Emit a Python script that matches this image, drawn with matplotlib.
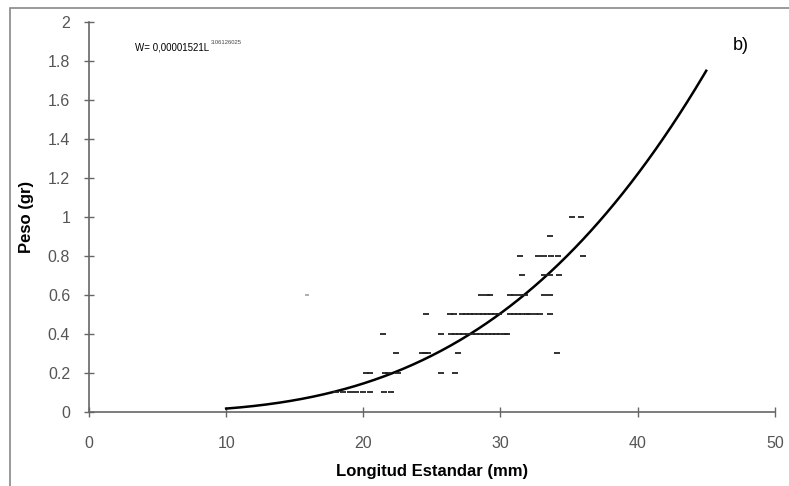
import matplotlib
matplotlib.use('Agg')
import matplotlib.pyplot as plt
import numpy as np
from matplotlib.patches import Rectangle

plt.rcParams['font.family'] = ['Liberation Sans', 'DejaVu Sans']

# datos: longitud estandar (mm) y peso (gr)
long_01 = [18, 18.5, 19, 19.5, 20, 20.5, 21.5, 22]
long_02 = [20.2, 20.5, 21.6, 21.8, 22.5, 25.7, 26.7]
long_03 = [22.4, 24.3, 24.5, 24.7, 26.9, 34.1]
long_04 = [21.4, 25.7, 26.4, 26.7, 27.0, 27.3, 27.6, 27.9, 28.2,
           28.5, 28.8, 29.1, 29.4, 29.7, 30.0, 30.3, 30.5]
long_05 = [24.6, 26.3, 26.6, 27.2, 27.5, 27.8, 28.1, 28.4, 28.7, 29.0,
           29.3, 29.6, 29.9, 30.7, 31.0, 31.3, 31.6, 31.9, 32.1, 32.5,
           32.9, 33.6]
long_06 = [28.6, 29.0, 29.2, 30.7, 31.0, 31.4, 31.8, 33.2, 33.6]
long_07 = [31.6, 33.2, 33.6, 34.3]
long_08 = [31.4, 32.7, 33.2, 33.7, 34.2, 36.0]
long_09 = [33.6]
long_10 = [35.2, 35.9]
niveles_peso = [0.1, 0.2, 0.3, 0.4, 0.5, 0.6, 0.7, 0.8, 0.9, 1.0]
atipico_x, atipico_y = [15.9], [0.6]

# modelo ajustado W = a * L^b
coef_a = 0.00001521
coef_b = 3.06126
rango_L = (10, 45)

grupos = [long_01, long_02, long_03, long_04, long_05,
          long_06, long_07, long_08, long_09, long_10]
xs = np.concatenate([np.array(g, float) for g in grupos])
ys = np.concatenate([np.full(len(g), p) for g, p in zip(grupos, niveles_peso)])

fig = plt.figure(figsize=(7.89, 4.86), dpi=100)
ax = fig.add_axes([0.1128, 0.1523, 0.8692, 0.8024])

L = np.linspace(rango_L[0], rango_L[1], 300)
ax.plot(L, coef_a * L ** coef_b, color='black', lw=1.8)

ax.plot(xs, ys, linestyle='none', marker='_', ms=4, mew=1.3, color='#222222')
ax.plot(atipico_x, atipico_y, linestyle='none', marker='_', ms=3, mew=1.1, color='#999999')

ax.set_xlim(0, 50)
ax.set_ylim(0, 2)
ax.set_xticks(np.arange(0, 51, 10))
ax.set_yticks(np.arange(0, 2.01, 0.2))
ax.set_yticklabels(['0', '0.2', '0.4', '0.6', '0.8', '1', '1.2', '1.4', '1.6', '1.8', '2'])
for s in ['top', 'right']:
    ax.spines[s].set_visible(False)
for s in ['left', 'bottom']:
    ax.spines[s].set_color('#666666')
    ax.spines[s].set_linewidth(1.2)
ax.tick_params(direction='inout', length=7, width=1, color='#666666',
               labelsize=11.5, labelcolor='#555555')
ax.tick_params(axis='y', pad=10)
ax.tick_params(axis='x', pad=14)

ax.set_xlabel('Longitud Estandar (mm)', fontsize=12, fontweight='bold', labelpad=9)
ax.set_ylabel('Peso (gr)', fontsize=12, fontweight='bold', labelpad=10)

fig.text(135 / 789, 1 - 47 / 486, 'W= 0,00001521L', fontsize=7, va='center', ha='left')
fig.text(211 / 789, 1 - 43 / 486, '3.06126025', fontsize=4.2, va='center', ha='left', color='#444444')
fig.text(733 / 789, 1 - 45 / 486, 'b)', fontsize=13, va='center', ha='left')

# marco exterior
fig.patches.append(Rectangle((10 / 789, -0.05), 1.1, 1 - 8 / 486 + 0.05,
                             transform=fig.transFigure, fill=False,
                             edgecolor='#888888', lw=1.2))

plt.savefig('out.png', dpi=100)
